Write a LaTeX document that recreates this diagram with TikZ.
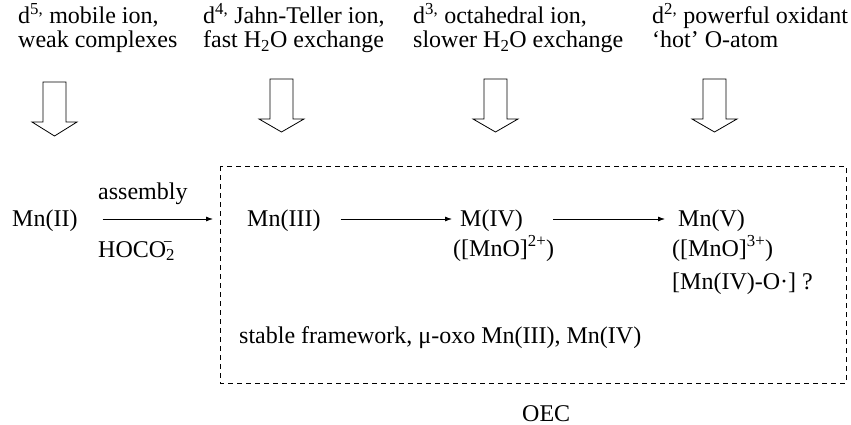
\documentclass[tikz,border=0pt]{standalone}
\usepackage{fontspec}
\setmainfont{Liberation Serif}
\usetikzlibrary{arrows.meta}
\tikzset{
  lbl/.style={inner sep=0pt, anchor=base west, font=\fontsize{24}{24}\selectfont, align=left},
  species/.style={inner sep=0pt, anchor=base west, font=\fontsize{24}{24}\selectfont, text height=16pt, text depth=2pt},
  arr/.style={-{Latex[length=7pt,width=5pt]}, line width=0.8pt},
  hollow/.style={draw, line width=0.8pt, fill=white, line join=miter},
  oecbox/.style={draw, line width=0.8pt, dash pattern=on 5pt off 4pt}
}
\newcommand{\hollowarrow}[4]{% center x, top y, head base y, tip y
  \draw[hollow] (#1-11.5,#2) -- (#1+11.5,#2) -- (#1+11.5,#3) -- (#1+22.5,#3)
    -- (#1,#4) -- (#1-22.5,#3) -- (#1-11.5,#3) -- cycle;}
\begin{document}
\begin{tikzpicture}[x=1pt,y=-1pt]
\useasboundingbox (0,0) rectangle (851,425);
% top descriptions (anchored at the baseline of the last line)
\node[lbl] (t1) at (18,48) {d\textsuperscript{5,} mobile ion,\\weak complexes};
\node[lbl] (t2) at (203,48) {d\textsuperscript{4,} Jahn-Teller ion,\\fast H\textsubscript{2}O exchange};
\node[lbl] (t3) at (413,48) {d\textsuperscript{3,} octahedral ion,\\slower H\textsubscript{2}O exchange};
\node[lbl] (t4) at (652,48) {d\textsuperscript{2,} powerful oxidant\\‘hot’ O-atom};
% hollow arrows
\hollowarrow{54.5}{82}{122}{136}
\hollowarrow{281.5}{79}{119}{132}
\hollowarrow{495.5}{79}{119}{132}
\hollowarrow{714.5}{79}{119}{132}
% box
\draw[oecbox] (220,166) rectangle (846,383);
\coordinate (boxw) at (220,219);
% species
\node[species] (mn2) at (12,226) {Mn(II)};
\node[species] (mn3) at (247,226) {Mn(III)};
\node[species] (m4) at (460,226) {M(IV)};
\node[species] (mn5) at (678,226) {Mn(V)};
\node[lbl] (assembly) at (98,199) {assembly};
\node[lbl] (hoco) at (98,257) {HOCO\textsubscript{2}\kern-0.5em\raisebox{0pt}[0pt][0pt]{\textsuperscript{−}}};
\node[lbl] (mno2) at (453,256) {([MnO]\textsuperscript{2+})};
\node[lbl] (mno3) at (672,256) {([MnO]\textsuperscript{3+})};
\node[lbl] (mnio) at (672,289) {[Mn(IV)-O·] ?};
\node[lbl] (stable) at (239,343) {stable framework, μ-oxo Mn(III), Mn(IV)};
\node[lbl] (oec) at (522,421) {OEC};
% connectors
\draw[arr, shorten <=25pt, shorten >=7pt] (mn2.east) -- (mn2.east -| boxw);
\draw[arr, shorten <=20pt, shorten >=8pt] (mn3.east) -- (m4.west);
\draw[arr, shorten <=30pt, shorten >=13pt] (m4.east) -- (mn5.west);
\end{tikzpicture}
\end{document}
